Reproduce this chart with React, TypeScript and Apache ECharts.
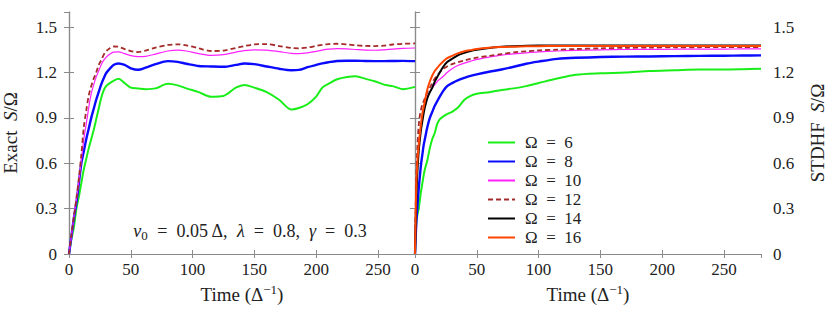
import React, { useEffect, useRef } from "react";
import * as echarts from "echarts";

// ---------- data ----------
const exactTime = [0, 2, 4, 6, 8, 10, 12, 14, 16, 18, 20, 22, 24, 26, 28, 30, 33, 36, 40, 45, 50, 56, 62, 70, 80, 88, 95, 105, 115, 125, 135, 142, 150, 160, 170, 180, 186, 193, 200, 205, 210, 217, 225, 232, 240, 248, 255, 262, 270, 280];
const exact6 = [0, 0.1, 0.18, 0.3, 0.38, 0.47, 0.56, 0.63, 0.7, 0.76, 0.82, 0.89, 0.96, 1.03, 1.08, 1.11, 1.13, 1.145, 1.158, 1.13, 1.1, 1.095, 1.09, 1.095, 1.125, 1.115, 1.095, 1.07, 1.04, 1.045, 1.1, 1.118, 1.1, 1.07, 1.02, 0.955, 0.965, 0.99, 1.04, 1.1, 1.125, 1.155, 1.17, 1.175, 1.158, 1.14, 1.12, 1.11, 1.09, 1.105];
const exact8 = [0, 0.12, 0.24, 0.34, 0.47, 0.6, 0.68, 0.76, 0.83, 0.9, 0.96, 1.02, 1.07, 1.12, 1.16, 1.195, 1.225, 1.25, 1.26, 1.25, 1.228, 1.218, 1.232, 1.255, 1.275, 1.27, 1.258, 1.243, 1.24, 1.238, 1.25, 1.26, 1.255, 1.24, 1.225, 1.215, 1.217, 1.235, 1.25, 1.26, 1.268, 1.276, 1.278, 1.278, 1.276, 1.275, 1.275, 1.276, 1.277, 1.275];
const exact10 = [0, 0.12, 0.25, 0.36, 0.48, 0.62, 0.76, 0.86, 0.97, 1.06, 1.12, 1.17, 1.21, 1.25, 1.28, 1.3, 1.32, 1.335, 1.337, 1.325, 1.312, 1.305, 1.307, 1.322, 1.342, 1.348, 1.342, 1.325, 1.313, 1.318, 1.335, 1.345, 1.35, 1.348, 1.338, 1.327, 1.325, 1.33, 1.34, 1.348, 1.354, 1.358, 1.356, 1.352, 1.348, 1.347, 1.35, 1.355, 1.36, 1.362];
const exact12 = [0, 0.13, 0.25, 0.37, 0.5, 0.66, 0.84, 0.95, 1.05, 1.11, 1.16, 1.2, 1.25, 1.28, 1.315, 1.34, 1.36, 1.372, 1.37, 1.355, 1.342, 1.335, 1.345, 1.365, 1.382, 1.386, 1.38, 1.36, 1.342, 1.345, 1.362, 1.375, 1.386, 1.388, 1.375, 1.362, 1.36, 1.365, 1.376, 1.383, 1.388, 1.39, 1.386, 1.38, 1.376, 1.375, 1.378, 1.385, 1.39, 1.392];

const tdhfTime = [0, 1, 2, 3, 4, 5, 6, 7, 8, 10, 12, 14, 16, 18, 20, 23, 26, 30, 35, 40, 45, 50, 60, 70, 80, 90, 100, 115, 130, 150, 170, 190, 210, 230, 250, 265, 280];
const tdhf6 = [0, 0.2, 0.26, 0.3, 0.36, 0.42, 0.47, 0.52, 0.56, 0.62, 0.7, 0.76, 0.8, 0.86, 0.89, 0.91, 0.925, 0.94, 0.97, 1.02, 1.045, 1.06, 1.07, 1.085, 1.095, 1.11, 1.13, 1.16, 1.185, 1.195, 1.2, 1.21, 1.215, 1.22, 1.22, 1.222, 1.225];
const tdhf8 = [0, 0.2, 0.32, 0.43, 0.52, 0.6, 0.66, 0.72, 0.76, 0.84, 0.9, 0.94, 0.98, 1.01, 1.04, 1.08, 1.11, 1.13, 1.15, 1.165, 1.178, 1.188, 1.205, 1.22, 1.238, 1.258, 1.272, 1.29, 1.298, 1.302, 1.305, 1.306, 1.308, 1.31, 1.311, 1.312, 1.313];
const tdhf10 = [0, 0.4, 0.6, 0.72, 0.8, 0.86, 0.91, 0.95, 0.98, 1.04, 1.07, 1.1, 1.12, 1.14, 1.155, 1.175, 1.2, 1.225, 1.248, 1.262, 1.275, 1.287, 1.302, 1.315, 1.323, 1.33, 1.336, 1.342, 1.346, 1.35, 1.352, 1.353, 1.354, 1.355, 1.355, 1.356, 1.356];
const tdhf12 = [0, 0.5, 0.72, 0.85, 0.92, 0.96, 0.99, 1.01, 1.03, 1.07, 1.1, 1.13, 1.16, 1.18, 1.2, 1.225, 1.24, 1.255, 1.268, 1.28, 1.29, 1.298, 1.31, 1.322, 1.333, 1.34, 1.346, 1.351, 1.355, 1.36, 1.363, 1.365, 1.366, 1.367, 1.368, 1.368, 1.368];
const tdhf14 = [0, 0.35, 0.55, 0.68, 0.76, 0.83, 0.88, 0.93, 0.97, 1.03, 1.07, 1.1, 1.14, 1.17, 1.2, 1.24, 1.27, 1.29, 1.315, 1.33, 1.342, 1.35, 1.362, 1.37, 1.374, 1.377, 1.378, 1.378, 1.378, 1.378, 1.378, 1.378, 1.378, 1.378, 1.378, 1.378, 1.378];
const tdhf16 = [0, 0.45, 0.62, 0.72, 0.8, 0.87, 0.93, 0.97, 1.01, 1.09, 1.14, 1.18, 1.21, 1.23, 1.25, 1.275, 1.295, 1.31, 1.328, 1.34, 1.348, 1.355, 1.363, 1.368, 1.371, 1.373, 1.374, 1.375, 1.375, 1.375, 1.375, 1.375, 1.375, 1.375, 1.376, 1.376, 1.376];

const legendNames = ["Ω\u2002=\u20026", "Ω\u2002=\u20028", "Ω\u2002=\u200210", "Ω\u2002=\u200212", "Ω\u2002=\u200214", "Ω\u2002=\u200216"];
const xTicks = { min: 0, max: 280, interval: 50 };
const yTicks = { min: 0, max: 1.6, interval: 0.3 };

// ---------- styles ----------
const FONT = "'Liberation Serif', 'DejaVu Serif', serif";
const FS = 17;
const NFS = 19;
const GRAY = "#8a8a8a";

const styles = [
  { color: "#19ee19", width: 2, type: "solid" },
  { color: "#0a0aff", width: 2.4, type: "solid" },
  { color: "#ff22ff", width: 1.2, type: "solid" },
  { color: "#a52a2a", width: 1.8, type: [5, 3] },
  { color: "#000000", width: 2, type: "solid" },
  { color: "#ff4500", width: 2, type: "solid" },
];

const zip = (t: number[], v: number[]) => t.map((x, i) => [x, v[i]]);

const richName = {
  i: { fontFamily: FONT, fontSize: NFS, fontStyle: "italic", color: "#222" },
  sup: { fontFamily: FONT, fontSize: 13, color: "#222", padding: [0, 0, 10, 0] },
};
const richNote = {
  i: { fontFamily: FONT, fontSize: 18, fontStyle: "italic", color: "#222" },
  sub: { fontFamily: FONT, fontSize: 13, color: "#222", padding: [8, 0, 0, 0] },
};

function xAxes(gridIndex: number) {
  return [
    {
      type: "value",
      gridIndex,
      position: "bottom",
      ...xTicks,
      axisLine: { lineStyle: { color: "#000", width: 1.2 } },
      axisTick: { inside: true, length: 4, lineStyle: { color: GRAY } },
      axisLabel: { fontFamily: FONT, fontSize: FS, color: "#222", margin: 7, showMaxLabel: false },
      splitLine: { show: false },
      name: "Time (Δ{sup|−1})",
      nameLocation: "middle",
      nameGap: 26,
      nameTextStyle: { fontFamily: FONT, fontSize: NFS, color: "#222", rich: richName },
    },
    {
      type: "value",
      gridIndex,
      position: "top",
      ...xTicks,
      axisLine: { lineStyle: { color: GRAY, width: 1.2 } },
      axisTick: { inside: true, length: 4, lineStyle: { color: GRAY } },
      axisLabel: { show: false },
      splitLine: { show: false },
    },
  ];
}

function yAxis(gridIndex: number, position: string, labels: boolean, name?: string) {
  return {
    type: "value",
    gridIndex,
    position,
    ...yTicks,
    axisLine: { show: true, lineStyle: { color: GRAY, width: 1.2 } },
    axisTick: { show: true, inside: true, length: 5, lineStyle: { color: GRAY } },
    axisLabel: labels
      ? { fontFamily: FONT, fontSize: FS, color: "#222", margin: 12, showMaxLabel: false, formatter: (v: number) => String(Math.round(v * 10) / 10) }
      : { show: false },
    splitLine: { show: false },
    ...(name
      ? {
          name,
          nameLocation: "middle",
          nameGap: position === "left" ? 49 : 47,
          nameRotate: 90,
          nameTextStyle: { fontFamily: FONT, fontSize: NFS, color: "#222", rich: richName },
        }
      : {}),
  };
}

export default function App() {
  const ref = useRef<HTMLDivElement>(null);
  useEffect(() => {
    if (!ref.current) return;
    const chart = echarts.init(ref.current, undefined, { renderer: "svg" });
    const exactVals = [exact6, exact8, exact10, exact12];
    const tdhfVals = [tdhf6, tdhf8, tdhf10, tdhf12, tdhf14, tdhf16];
    const mk = (name: string, data: number[][], s: any, xi: number, yi: number) => ({
      type: "line",
      name,
      data,
      xAxisIndex: xi,
      yAxisIndex: yi,
      showSymbol: false,
      symbol: "none",
      smooth: 0.3,
      lineStyle: { color: s.color, width: s.width, type: s.type },
      itemStyle: { color: s.color },
      emphasis: { disabled: true },
    });
    const series = [
      ...exactVals.map((v, i) => mk(legendNames[i], zip(exactTime, v), styles[i], 0, 0)),
      ...tdhfVals.map((v, i) => mk(legendNames[i], zip(tdhfTime, v), styles[i], 2, 3)),
    ];
    chart.setOption({
      animation: false,
      backgroundColor: "#fff",
      grid: [
        { left: 69, top: 12, width: 346, height: 242 },
        { left: 415, top: 12, width: 346, height: 242 },
      ],
      xAxis: [...xAxes(0), ...xAxes(1)],
      yAxis: [
        yAxis(0, "left", true, "Exact\u2002{i|S}/Ω"),
        yAxis(0, "right", false),
        yAxis(1, "left", false),
        yAxis(1, "right", true, "STDHF\u2002{i|S}/Ω"),
      ],
      legend: {
        data: legendNames,
        orient: "vertical",
        left: 487,
        top: 133,
        padding: 0,
        itemWidth: 27,
        itemHeight: 12,
        itemGap: 0,
        selectedMode: false,
        itemStyle: { opacity: 0 },
        textStyle: { fontFamily: FONT, fontSize: FS, lineHeight: 19, color: "#222", padding: [0, 0, 0, 5] },
      },
      graphic: [
        {
          type: "text",
          x: 250,
          y: 231,
          style: {
            text: "{i|v}{sub|0}\u2002=\u20020.05 Δ,\u2002{i|λ}\u2002=\u20020.8,\u2002{i|γ}\u2002=\u20020.3",
            fontFamily: FONT,
            fontSize: 18,
            fill: "#222",
            align: "center",
            verticalAlign: "middle",
            rich: richNote,
          },
        },
      ],
      series,
    });
    return () => chart.dispose();
  }, []);
  return <div ref={ref} style={{ position: "fixed", left: 0, top: 0, width: 830, height: 315 }} />;
}
